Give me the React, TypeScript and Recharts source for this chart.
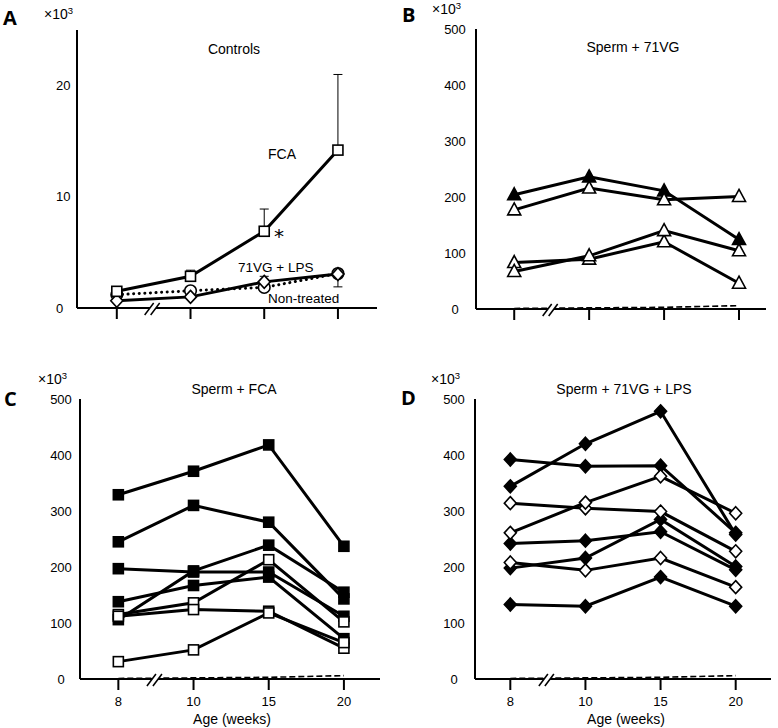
import React from 'react';
import { LineChart, Line, XAxis, YAxis, ErrorBar, ReferenceDot } from 'recharts';

const ages = ['8', '10', '15', '20'];

// Panel A: Controls (x10^3)
const ctrlFCA = [1.5, 2.85, 6.9, 14.2];
const ctrlFCAErrUp = [0, 0.55, 2.0, 6.8];
const ctrl71VGLPS = [1.2, 1.55, 1.85, 3.1];
const ctrlNonTreated = [0.65, 1.0, 2.35, 3.05];
const ctrlNonTreatedErrUp = [0, 0, 0.5, 0];
const ctrlNonTreatedErrDown = [0, 0, 0, 1.15];

// Panel B: Sperm + 71VG
const b71VGFilled1 = [204, 236, 211, 124];
const b71VGOpen1 = [177, 216, 195, 201];
const b71VGOpen2 = [83, 89, 120, 46];
const b71VGOpen3 = [67, 95, 140, 104];

// dashed near-zero level (B, C, D)
const zeroLevel = [1, 2, 3, 6];

// Panel C: Sperm + FCA
const cFilled1 = [329, 371, 418, 237];
const cFilled2 = [245, 310, 280, 143];
const cFilled3 = [197, 191, 191, 112];
const cFilled4 = [138, 167, 182, 72];
const cFilled5 = [106, 193, 239, 155];
const cOpen1 = [115, 136, 213, 102];
const cOpen2 = [112, 124, 121, 55];
const cOpen3 = [31, 52, 118, 65];

// Panel D: Sperm + 71VG + LPS
const dFilled1 = [344, 420, 478, 258];
const dFilled2 = [392, 380, 381, 261];
const dFilled3 = [242, 247, 263, 195];
const dFilled4 = [198, 216, 285, 201];
const dFilled5 = [133, 130, 182, 130];
const dOpen1 = [314, 305, 299, 228];
const dOpen2 = [261, 315, 362, 296];
const dOpen3 = [208, 194, 216, 164];

const FONT = '"Liberation Sans", Arial, sans-serif';

type Shape = 'square' | 'triangle' | 'diamond' | 'circle';
interface Series { key: string; values: number[]; shape: Shape; filled: boolean; }

const makeDot = (shape: Shape, filled: boolean) => (props: any) => {
  const { cx, cy, index } = props;
  if (cx == null || cy == null) return <g key={index} />;
  const common = { fill: filled ? '#000' : '#fff', stroke: '#000', strokeWidth: 1.6 };
  if (shape === 'square')
    return <rect key={index} x={cx - 5} y={cy - 5} width={10} height={10} {...common} />;
  if (shape === 'triangle')
    return <polygon key={index} points={`${cx},${cy - 7} ${cx + 6.5},${cy + 5} ${cx - 6.5},${cy + 5}`} {...common} />;
  if (shape === 'diamond')
    return <polygon key={index} points={`${cx},${cy - 6.5} ${cx + 6},${cy} ${cx},${cy + 6.5} ${cx - 6},${cy}`} {...common} />;
  return <circle key={index} cx={cx} cy={cy} r={5.8} {...common} />;
};

const BreakMark = (props: any) => {
  const { cx, cy } = props;
  if (cx == null || cy == null) return <g />;
  return (
    <g>
      <polygon points={`${cx - 9},${cy + 7} ${cx - 3},${cy + 7} ${cx + 6},${cy - 5} ${cx},${cy - 5}`} fill="#fff" stroke="none" />
      <line x1={cx - 9} y1={cy + 7} x2={cx} y2={cy - 5} stroke="#000" strokeWidth={1.5} />
      <line x1={cx - 3} y1={cy + 7} x2={cx + 6} y2={cy - 5} stroke="#000" strokeWidth={1.5} />
    </g>
  );
};

const yTick = (lx: number, anchor: 'start' | 'middle' | 'end') => (props: any) => (
  <text x={lx} y={props.y} textAnchor={anchor} dominantBaseline="central" fontSize={13} fontFamily={FONT} fill="#000">
    {props.payload.value}
  </text>
);

interface PanelProps {
  left: number; top: number; width: number; height: number;
  margin: { top: number; right: number; bottom: number; left: number };
  xDomain: [number, number];
  yDomain: [number, number];
  yTicks: number[];
  yLabelX: number; yAnchor: 'start' | 'middle' | 'end';
  series: Series[];
  showXLabels: boolean;
  zero: boolean;
}

function Panel(p: PanelProps) {
  const data = ages.map((a, i) => {
    const row: any = { x: i, age: a, zero: zeroLevel[i] };
    p.series.forEach((s) => { row[s.key] = s.values[i]; });
    return row;
  });
  return (
    <div style={{ position: 'absolute', left: p.left, top: p.top }}>
      <LineChart width={p.width} height={p.height} data={data} margin={p.margin}>
        <XAxis
          dataKey="x" type="number" domain={p.xDomain} ticks={[0, 1, 2, 3]} allowDataOverflow
          height={30} tickSize={11} tickMargin={7}
          axisLine={{ stroke: '#000', strokeWidth: 2 }}
          tickLine={{ stroke: '#000', strokeWidth: 2 }}
          tick={{ fontSize: 13, fontFamily: FONT, fill: '#000' }}
          tickFormatter={(v: number) => (p.showXLabels ? ages[v] : '')}
        />
        <YAxis
          type="number" domain={p.yDomain} ticks={p.yTicks} width={40} allowDataOverflow
          axisLine={{ stroke: '#000', strokeWidth: 2 }} tickLine={false}
          tick={yTick(p.yLabelX, p.yAnchor)}
        />
        {p.zero && (
          <Line dataKey="zero" stroke="#000" strokeWidth={1.6} strokeDasharray="6 3" dot={false} activeDot={false} isAnimationActive={false} />
        )}
        {p.series.map((s) => (
          <Line key={s.key} dataKey={s.key} type="linear" stroke="#000" strokeWidth={3}
            dot={makeDot(s.shape, s.filled)} activeDot={false} isAnimationActive={false} />
        ))}
        <ReferenceDot x={0.5} y={0} r={0} ifOverflow="visible" shape={BreakMark} zIndex={2500} />
      </LineChart>
    </div>
  );
}

function PanelA() {
  const data = ages.map((a, i) => ({
    x: i, age: a,
    fca: ctrlFCA[i], fcaErr: [0, ctrlFCAErrUp[i]],
    vglps: ctrl71VGLPS[i],
    non: ctrlNonTreated[i], nonErr: [ctrlNonTreatedErrDown[i], ctrlNonTreatedErrUp[i]],
  }));
  return (
    <div style={{ position: 'absolute', left: 0, top: 0 }}>
      <LineChart width={389} height={340} data={data} margin={{ top: 30, right: 12, bottom: 2, left: 37 }}>
        <XAxis
          dataKey="x" type="number" domain={[-0.54, 3.53]} ticks={[0, 1, 2, 3]} allowDataOverflow
          height={30} tickSize={11} tickMargin={7}
          axisLine={{ stroke: '#000', strokeWidth: 2 }}
          tickLine={{ stroke: '#000', strokeWidth: 2 }}
          tickFormatter={() => ''}
        />
        <YAxis
          type="number" domain={[0, 25]} ticks={[0, 10, 20]} width={40} allowDataOverflow
          axisLine={{ stroke: '#000', strokeWidth: 2 }} tickLine={false}
          tick={yTick(56, 'start')}
        />
        <Line dataKey="vglps" stroke="#000" strokeWidth={3} strokeDasharray="0.1 5.5" strokeLinecap="round"
          dot={makeDot('circle', false)} activeDot={false} isAnimationActive={false} />
        <Line dataKey="non" stroke="#000" strokeWidth={3} dot={makeDot('diamond', false)} activeDot={false} isAnimationActive={false}>
          <ErrorBar dataKey="nonErr" width={4.5} stroke="#000" strokeWidth={1} direction="y" />
        </Line>
        <Line dataKey="fca" stroke="#000" strokeWidth={3} dot={makeDot('square', false)} activeDot={false} isAnimationActive={false}>
          <ErrorBar dataKey="fcaErr" width={4.5} stroke="#000" strokeWidth={1} direction="y" />
        </Line>
        <ReferenceDot x={0.5} y={0} r={0} ifOverflow="visible" shape={BreakMark} zIndex={2500} />
      </LineChart>
    </div>
  );
}

const seriesB: Series[] = [
  { key: 'b1', values: b71VGFilled1, shape: 'triangle', filled: true },
  { key: 'b2', values: b71VGOpen1, shape: 'triangle', filled: false },
  { key: 'b3', values: b71VGOpen2, shape: 'triangle', filled: false },
  { key: 'b4', values: b71VGOpen3, shape: 'triangle', filled: false },
];

const seriesC: Series[] = [
  { key: 'c1', values: cFilled1, shape: 'square', filled: true },
  { key: 'c2', values: cFilled2, shape: 'square', filled: true },
  { key: 'c3', values: cFilled3, shape: 'square', filled: true },
  { key: 'c4', values: cFilled4, shape: 'square', filled: true },
  { key: 'c5', values: cFilled5, shape: 'square', filled: true },
  { key: 'c6', values: cOpen1, shape: 'square', filled: false },
  { key: 'c7', values: cOpen2, shape: 'square', filled: false },
  { key: 'c8', values: cOpen3, shape: 'square', filled: false },
];

const seriesD: Series[] = [
  { key: 'd1', values: dFilled1, shape: 'diamond', filled: true },
  { key: 'd2', values: dFilled2, shape: 'diamond', filled: true },
  { key: 'd3', values: dFilled3, shape: 'diamond', filled: true },
  { key: 'd4', values: dFilled4, shape: 'diamond', filled: true },
  { key: 'd5', values: dFilled5, shape: 'diamond', filled: true },
  { key: 'd6', values: dOpen1, shape: 'diamond', filled: false },
  { key: 'd7', values: dOpen2, shape: 'diamond', filled: false },
  { key: 'd8', values: dOpen3, shape: 'diamond', filled: false },
];

const bigTicks = [0, 100, 200, 300, 400, 500];

const Times = ({ x, y }: { x: number; y: number }) => (
  <text x={x} y={y} fontSize={14} fontFamily={FONT} fill="#000">
    ×10<tspan dy={-5} fontSize={9.5}>3</tspan>
  </text>
);

const Letter = ({ x, y, t }: { x: number; y: number; t: string }) => (
  <text x={x} y={y} fontSize={20} fontWeight="bold" fontFamily={'"Open Sans", "Liberation Sans", Arial, sans-serif'} fill="#000">{t}</text>
);

function Overlay() {
  const txt = { fontFamily: FONT, fill: '#000' };
  return (
    <svg width={778} height={728} style={{ position: 'absolute', left: 0, top: 0, pointerEvents: 'none' }}>
      <Letter x={3} y={25} t="A" />
      <Letter x={402} y={22} t="B" />
      <Letter x={4} y={406} t="C" />
      <Letter x={401} y={405} t="D" />
      <Times x={44} y={19} />
      <Times x={432} y={14} />
      <Times x={38} y={384} />
      <Times x={431} y={384} />
      <text x={234} y={54} textAnchor="middle" fontSize={14} {...txt}>Controls</text>
      <text x={268} y={159} fontSize={14} {...txt}>FCA</text>
      <text x={274} y={243} fontSize={20} fontFamily='"DejaVu Sans", sans-serif' fill="#000">*</text>
      <text x={238} y={272} fontSize={13.5} {...txt}>71VG + LPS</text>
      <text x={268} y={303} fontSize={13.5} {...txt}>Non-treated</text>
      <text x={633} y={52} textAnchor="middle" fontSize={14} {...txt}>Sperm + 71VG</text>
      <text x={234} y={394} textAnchor="middle" fontSize={14} {...txt}>Sperm + FCA</text>
      <text x={624} y={394} textAnchor="middle" fontSize={14} {...txt}>Sperm + 71VG + LPS</text>
      <text x={232} y={724} textAnchor="middle" fontSize={14} {...txt}>Age (weeks)</text>
      <text x={626} y={724} textAnchor="middle" fontSize={14} {...txt}>Age (weeks)</text>
    </svg>
  );
}

export default function App() {
  return (
    <div style={{ position: 'absolute', left: 0, top: 0, width: 778, height: 728, background: '#fff', fontFamily: FONT }}>
      <PanelA />
      <Panel left={389} top={0} width={389} height={340}
        margin={{ top: 29, right: 12, bottom: 1, left: 47 }}
        xDomain={[-0.51, 3.36]} yDomain={[0, 500]} yTicks={bigTicks}
        yLabelX={455 - 389} yAnchor="middle" series={seriesB} showXLabels={false} zero />
      <Panel left={0} top={340} width={389} height={388}
        margin={{ top: 59, right: 9, bottom: 19, left: 40 }}
        xDomain={[-0.51, 3.48]} yDomain={[0, 500]} yTicks={bigTicks}
        yLabelX={61} yAnchor="middle" series={seriesC} showXLabels zero />
      <Panel left={389} top={340} width={389} height={388}
        margin={{ top: 59, right: 7, bottom: 19, left: 46 }}
        xDomain={[-0.47, 3.47]} yDomain={[0, 500]} yTicks={bigTicks}
        yLabelX={454 - 389} yAnchor="middle" series={seriesD} showXLabels zero />
      <Overlay />
    </div>
  );
}
